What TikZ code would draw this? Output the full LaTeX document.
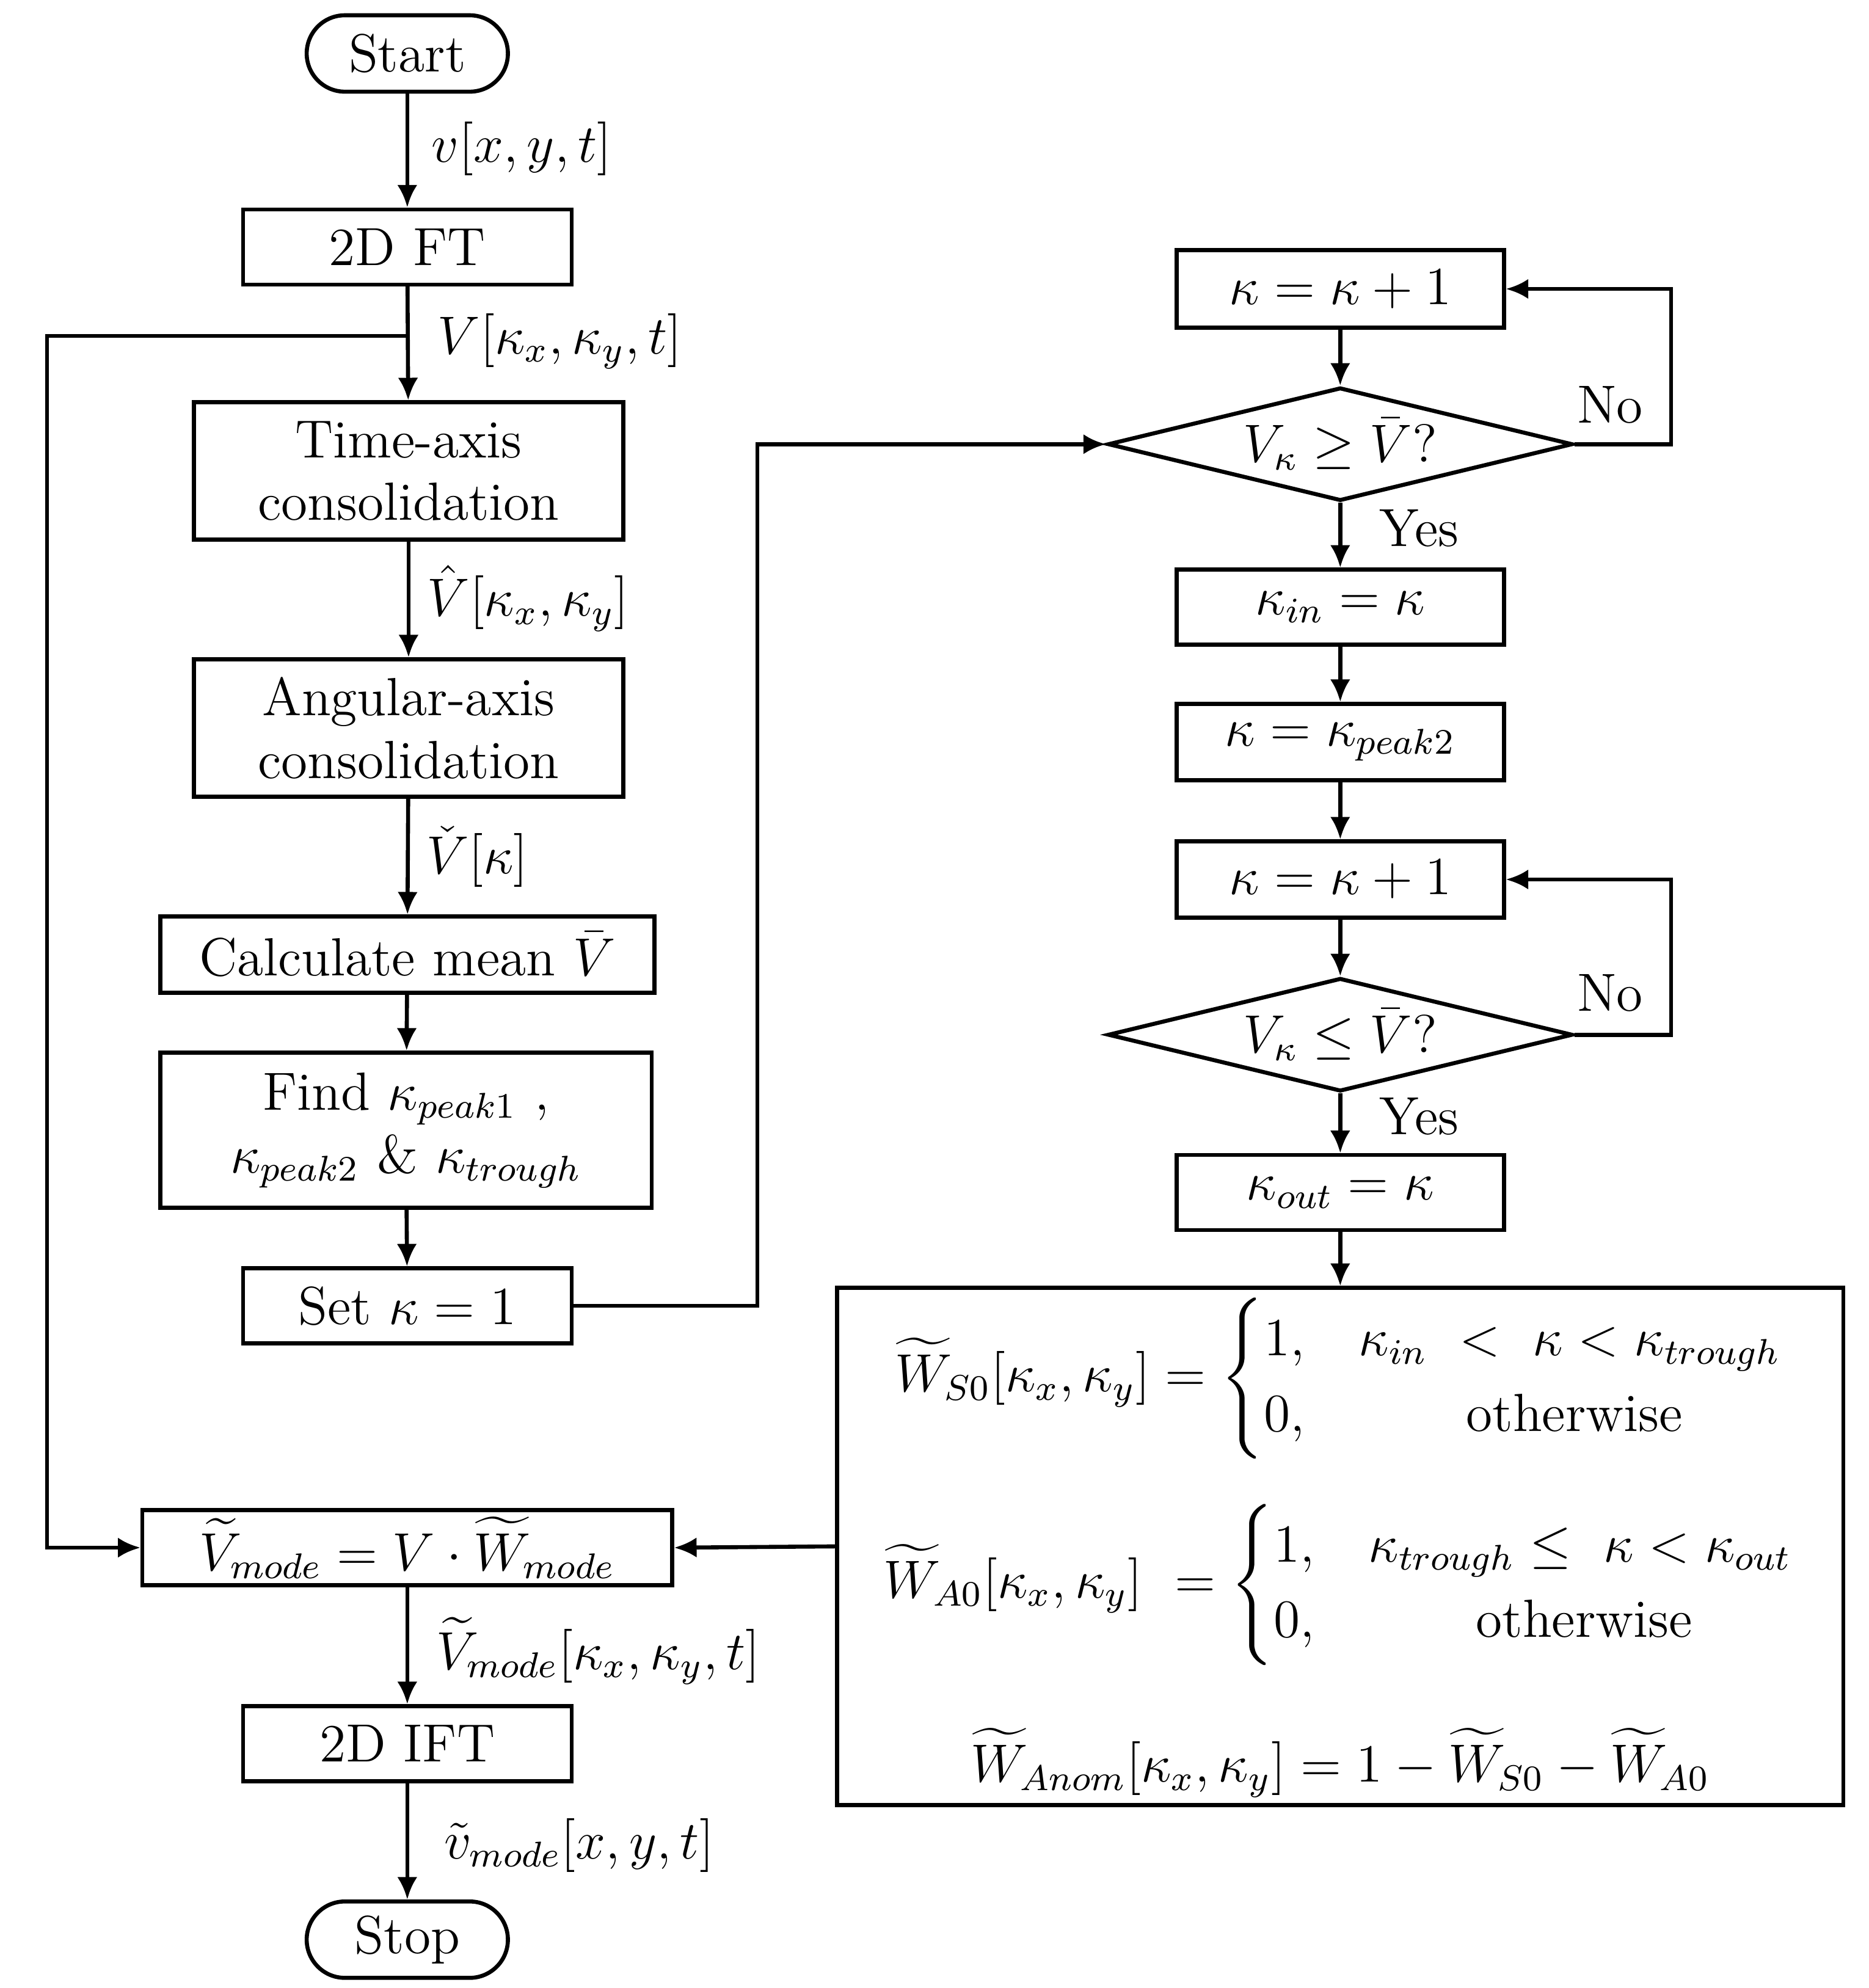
\documentclass[tikz,border=0pt]{standalone}
\usepackage{amsmath,amssymb}
\usetikzlibrary{shapes.geometric,arrows.meta}
\begin{document}
\begin{tikzpicture}[x=0.01cm,y=-0.01cm,font=\fontsize{12}{14}\selectfont,
  line width=0.9pt,
  arr/.style={-{Latex[length=5pt,width=4.5pt]}},
  box/.style={draw,rectangle,inner sep=0pt,align=center},
  term/.style={draw,rounded rectangle,minimum width=1.58cm,minimum height=0.6cm,inner sep=0pt},
  dia/.style={draw,diamond,aspect=4.1,minimum width=3.65cm,minimum height=0.89cm,inner sep=0pt},
  lab/.style={inner sep=0pt}]
\useasboundingbox (0,0) rectangle (1468,1562);
\tikzset{rounded rectangle/.style={rectangle,rounded corners=0.3cm}}
\node[term] (start) at (320,42) {Start};
\node[box,minimum width=2.58cm,minimum height=0.59cm] (ft) at (320,194) {2D FT};
\node[box,minimum width=3.37cm,minimum height=1.08cm] (time) at (321,370) {Time-axis\\consolidation};
\node[box,minimum width=3.37cm,minimum height=1.08cm] (ang) at (321,572) {Angular-axis\\consolidation};
\node[box,minimum width=3.88cm,minimum height=0.6cm] (mean) at (320,750) {Calculate mean $\bar V$};
\node[box,minimum width=3.86cm,minimum height=1.22cm] (find) at (319,888) {Find $\kappa_{peak1}$ ,\\$\kappa_{peak2}$ \& $\kappa_{trough}$};
\node[box,minimum width=2.58cm,minimum height=0.59cm] (set) at (320,1026) {Set $\kappa=1$};
\node[box,minimum width=4.16cm,minimum height=0.59cm] (vm) at (320,1216) {$\widetilde V_{mode}=V\cdot \widetilde W_{mode}$};
\node[box,minimum width=2.58cm,minimum height=0.59cm] (ift) at (320,1370) {2D IFT};
\node[term] (stop) at (320,1524) {Stop};

\node[box,minimum width=2.57cm,minimum height=0.61cm] (k1) at (1053,227) {$\kappa=\kappa+1$};
\node[dia] (d1) at (1053,349) {$V_\kappa\geq\bar V?$};
\node[box,minimum width=2.57cm,minimum height=0.59cm] (kin) at (1053,477) {$\kappa_{in}=\kappa$};
\node[box,minimum width=2.57cm,minimum height=0.6cm] (kp) at (1053,583) {$\kappa=\kappa_{peak2}$};
\node[box,minimum width=2.57cm,minimum height=0.6cm] (k2) at (1053,691) {$\kappa=\kappa+1$};
\node[dia] (d2) at (1053,813) {$V_\kappa\leq\bar V?$};
\node[box,minimum width=2.57cm,minimum height=0.59cm] (kout) at (1053,937) {$\kappa_{out}=\kappa$};
\node[box,minimum width=7.9cm,minimum height=4.06cm] (big) at (1053,1215) {};
\node[lab] (e1) at (1053,1083) {$\widetilde W_{S0}[\kappa_x,\kappa_y]=\begin{cases}1, & \kappa_{in}\ <\ \kappa<\kappa_{trough}\\ 0, & \qquad\text{otherwise}\end{cases}$};
\node[lab] (e2) at (1053,1245) {$\widetilde W_{A0}[\kappa_x,\kappa_y]\ =\begin{cases}1, & \kappa_{trough}\leq\ \kappa<\kappa_{out}\\ 0, & \qquad\text{otherwise}\end{cases}$};
\node[lab] (e3) at (1053,1385) {$\widetilde W_{Anom}[\kappa_x,\kappa_y]=1-\widetilde W_{S0}-\widetilde W_{A0}$};

\node[lab] at (410,117) {$v[x,y,t]$};
\node[lab] at (440,268) {$V[\kappa_x,\kappa_y,t]$};
\node[lab] at (415,470) {$\hat V[\kappa_x,\kappa_y]$};
\node[lab] at (375,673) {$\check V[\kappa]$};
\node[lab] at (470,1297) {$\widetilde V_{mode}[\kappa_x,\kappa_y,t]$};
\node[lab] at (455,1450) {$\tilde v_{mode}[x,y,t]$};
\node[lab] at (1265,318) {No};
\node[lab] at (1115,415) {Yes};
\node[lab] at (1265,780) {No};
\node[lab] at (1115,877) {Yes};

\draw[arr] (start) -- (ft);
\draw[arr] (ft) -- (time);
\draw[arr] (time) -- (ang);
\draw[arr] (ang) -- (mean);
\draw[arr] (mean) -- (find);
\draw[arr] (find) -- (set);
\draw[arr] (vm) -- (ift);
\draw[arr] (ift) -- (stop);
\coordinate (br) at (320,264);
\draw[arr] (br) -- (37,264) -- (37,1216) -- (vm.west);
\draw[arr] (set.east) -- (595,1026) -- (595,349) -- (d1.west);
\draw[arr] (k1) -- (d1);
\draw[arr] (d1) -- (kin);
\draw[arr] (kin) -- (kp);
\draw[arr] (kp) -- (k2);
\draw[arr] (k2) -- (d2);
\draw[arr] (d2) -- (kout);
\draw[arr] (kout) -- (big);
\draw[arr] (d1.east) -- (1313,349) -- (1313,227) -- (k1.east);
\draw[arr] (d2.east) -- (1313,813) -- (1313,691) -- (k2.east);
\draw[arr] (big.west) -- (vm.east);
\end{tikzpicture}
\end{document}
